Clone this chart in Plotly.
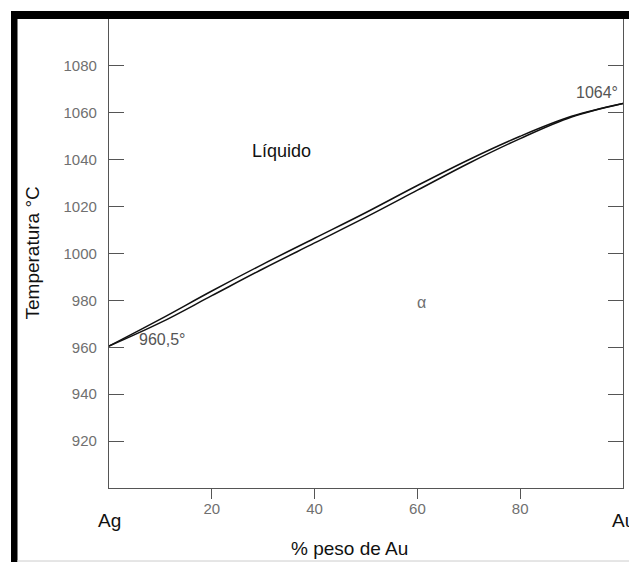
import plotly.graph_objects as go

# Data
comp = [0, 10, 20, 30, 40, 50, 60, 70, 80, 90, 100]            # % peso de Au
liquidus = [960.5, 972, 984, 995.5, 1006.5, 1017.5, 1029, 1040, 1050, 1058.5, 1064]
solidus = [960.5, 970.5, 982, 993.5, 1004.5, 1015.5, 1027, 1038.5, 1049, 1058.2, 1064]
x_ticks = [20, 40, 60, 80]
y_ticks = [920, 940, 960, 980, 1000, 1020, 1040, 1060, 1080]

FONT = "Liberation Sans, Arial, sans-serif"
GREY = "#707070"
AXIS = "#555555"

fig = go.Figure()
fig.add_trace(go.Scatter(x=comp, y=liquidus, mode="lines",
                         line=dict(color="#111111", width=1.5, shape="spline", smoothing=1.0),
                         showlegend=False, hoverinfo="skip"))
fig.add_trace(go.Scatter(x=comp, y=solidus, mode="lines",
                         line=dict(color="#111111", width=1.5, shape="spline", smoothing=1.0),
                         showlegend=False, hoverinfo="skip"))

fig.update_layout(
    width=629, height=562,
    margin=dict(l=109, r=6, t=19, b=74),
    paper_bgcolor="white", plot_bgcolor="white",
    font=dict(family=FONT, size=15, color=GREY),
    xaxis=dict(range=[0, 100], tickvals=x_ticks, ticks="outside", ticklen=10,
               tickcolor=AXIS, tickwidth=1, showline=True, linecolor=AXIS,
               linewidth=1.2, showgrid=False, zeroline=False,
               ticklabelstandoff=-3, tickfont=dict(size=15, color=GREY)),
    xaxis2=dict(range=[0, 100], overlaying="x", side="top", tickvals=x_ticks,
                ticks="inside", ticklen=10, tickcolor=AXIS, showticklabels=False,
                showgrid=False, zeroline=False, showline=False),
    yaxis=dict(range=[900, 1100], tickvals=y_ticks, ticks="inside", ticklen=15,
               tickcolor=AXIS, tickwidth=1, showline=True, linecolor=AXIS,
               linewidth=1.2, mirror="ticks", showgrid=False, zeroline=False,
               ticklabelstandoff=8, tickfont=dict(size=15, color=GREY)),
)

annots = [
    dict(text="Líquido", x=33.6, y=1043.5, xref="x", yref="y", showarrow=False,
         font=dict(size=18, color="#111111", family=FONT)),
    dict(text="α", x=60.8, y=979, xref="x", yref="y", showarrow=False,
         font=dict(size=16, color=GREY, family=FONT)),
    dict(text="960,5°", x=10.3, y=963.3, xref="x", yref="y", showarrow=False,
         font=dict(size=16, color="#555555", family=FONT)),
    dict(text="1064°", x=95.0, y=1068.7, xref="x", yref="y", showarrow=False,
         font=dict(size=16, color="#555555", family=FONT)),
    dict(text="Ag", x=0, y=-0.070, xref="x", yref="paper", showarrow=False,
         xanchor="center", yanchor="middle",
         font=dict(size=19, color="#111111", family=FONT)),
    dict(text="Au", x=100, y=-0.070, xref="x", yref="paper", showarrow=False,
         xanchor="center", yanchor="middle",
         font=dict(size=19, color="#111111", family=FONT)),
    dict(text="% peso de Au", x=0.468, y=-0.130, xref="paper", yref="paper",
         xanchor="center", yanchor="middle", showarrow=False,
         font=dict(size=19, color="#111111", family=FONT)),
    dict(text="Temperatura °C", x=-0.1498, y=0.5, xref="paper", yref="paper",
         xanchor="center", yanchor="middle", textangle=-90, showarrow=False,
         font=dict(size=19, color="#111111", family=FONT)),
]
fig.update_layout(annotations=annots)

# Frame decoration: thick black bars left and top
def px_x(p):
    return (p - 109) / 514.0

def px_y(p):
    return (488 - p) / 469.0

fig.add_shape(type="rect", xref="paper", yref="paper",
              x0=px_x(11), x1=px_x(17.5), y0=px_y(562), y1=px_y(11),
              fillcolor="black", line=dict(width=0), layer="above")
fig.add_shape(type="rect", xref="paper", yref="paper",
              x0=px_x(11), x1=px_x(640), y0=px_y(19), y1=px_y(11),
              fillcolor="black", line=dict(width=0), layer="above")
fig.add_shape(type="line", xref="paper", yref="paper",
              x0=px_x(17), x1=px_x(640), y0=px_y(561), y1=px_y(561),
              line=dict(color="#cccccc", width=1))

fig.write_html("out.html", config={"displayModeBar": False},
               post_script="document.body.style.margin='0';document.body.style.overflow='hidden';")
